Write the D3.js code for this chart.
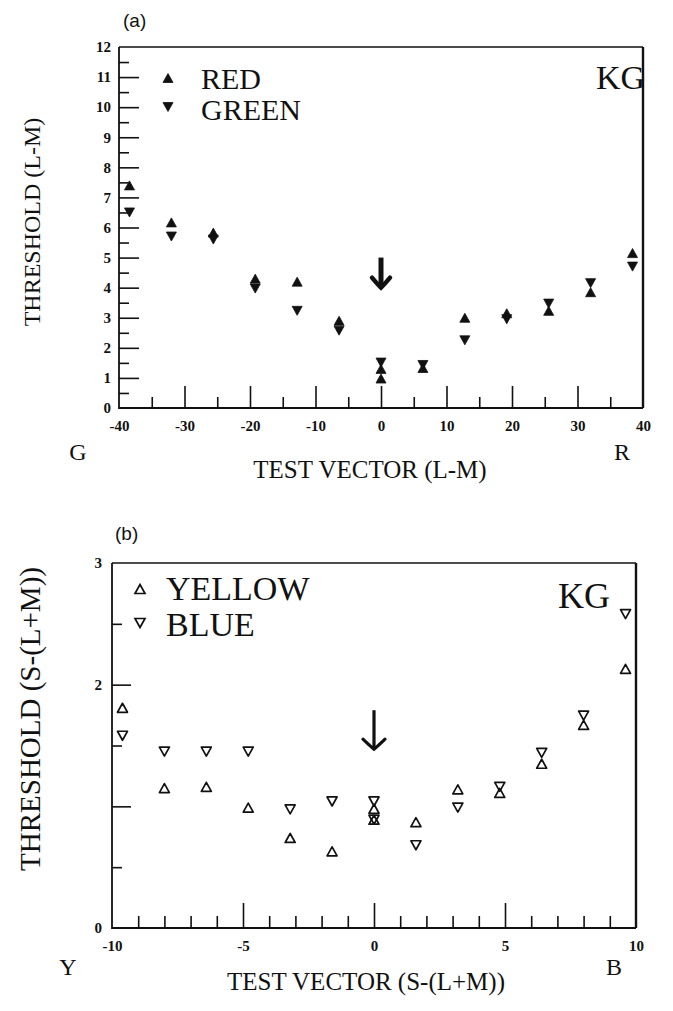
<!DOCTYPE html>
<html><head><meta charset="utf-8">
<script src="https://cdn.jsdelivr.net/npm/d3@7/dist/d3.min.js"></script>
<style>
html,body{margin:0;padding:0;background:#fff;}
svg{display:block;}
text{fill:#111;}
</style></head>
<body>
<script>
// ---------- Panel (a): L-M ----------
const lmX        = [-38.4, -32, -25.6, -19.2, -12.8, -6.4, 0, 6.4, 12.8, 19.2, 25.6, 32, 38.4];
const redThr     = [7.4, 6.17, 5.83, 4.3, 4.2, 2.9, 1.3, 1.33, 3.0, 3.15, 3.23, 3.85, 5.15];
const greenThr   = [6.5, 5.7, 5.6, 3.97, 3.23, 2.57, 1.51, 1.43, 2.25, 2.95, 3.47, 4.15, 4.7];
const redExtraX  = [0];
const redExtra   = [0.98];
const aXTicksMajor = [-30, -20, -10, 0, 10, 20, 30];
const aXTicksMinor = [-35, -25, -15, -5, 5, 15, 25, 35];
const aXLabels     = [-40, -30, -20, -10, 0, 10, 20, 30, 40];
const aYTicksMajor = [1,2,3,4,5,6,7,8,9,10,11];
const aYTicksMinor = [0.5,1.5,2.5,3.5,4.5,5.5,6.5,7.5,8.5,9.5,10.5,11.5];
const aYLabels     = [0,1,2,3,4,5,6,7,8,9,10,11,12];
const aArrow       = {x: 0, from: 5.0, to: 4.0};

// ---------- Panel (b): S-(L+M) ----------
const sX         = [-9.6, -8, -6.4, -4.8, -3.2, -1.6, 0, 1.6, 3.2, 4.8, 6.4, 8, 9.6];
const yellowThr  = [1.81, 1.15, 1.16, 0.99, 0.74, 0.63, 0.98, 0.87, 1.14, 1.11, 1.35, 1.67, 2.13];
const blueThr    = [1.58, 1.45, 1.45, 1.45, 0.975, 1.04, 1.04, 0.68, 0.99, 1.16, 1.44, 1.745, 2.58];
const extraX     = [0];
const yellowExtra= [0.89];
const blueExtra  = [0.89];
const bXTicksMajor = [-5, 0, 5];
const bXTicksMinor = [-9,-8,-7,-6,-4,-3,-2,-1,1,2,3,4,6,7,8,9];
const bXLabels     = [-10, -5, 0, 5, 10];
const bYTicksMajor = [1, 2];
const bYTicksMinor = [0.5, 1.5, 2.5];
const bYLabels     = [0, 2, 3];
const bArrow       = {x: 0, from: 1.79, to: 1.47};

const W = 673, H = 1011;
const svg = d3.select("body").append("svg").attr("width", W).attr("height", H);
const SERIF = "'Liberation Serif','Times New Roman',serif";
const SANS = "'Liberation Sans',Arial,sans-serif";

function triPath(size, up){
  const h = size*0.9, w = size/2;
  return up ? `M0,${-h/2}L${w},${h/2}L${-w},${h/2}Z` : `M0,${h/2}L${w},${-h/2}L${-w},${-h/2}Z`;
}

function panel(cfg){
  const g = svg.append("g");
  const x = d3.scaleLinear().domain(cfg.xDomain).range(cfg.xRange);
  const y = d3.scaleLinear().domain(cfg.yDomain).range(cfg.yRange);
  const [x0,x1] = cfg.xRange, [y0,y1] = cfg.yRange;

  g.append("path").attr("d", `M${x0},${y1}L${x1},${y1}`).attr("stroke","#111").attr("stroke-width",1.3).attr("fill","none");
  g.append("path").attr("d", `M${x0},${y1}L${x0},${y0}L${x1},${y0}`).attr("stroke","#111").attr("stroke-width",1.8).attr("fill","none");
  g.append("path").attr("d", `M${x1},${y1}L${x1},${y0}`).attr("stroke","#111").attr("stroke-width",2.4).attr("fill","none");

  const gxM = g.append("g").attr("transform",`translate(0,${y0})`)
    .call(d3.axisBottom(x).tickValues(cfg.xMajor).tickSize(-cfg.xMajorLen).tickFormat(""));
  const gxm = g.append("g").attr("transform",`translate(0,${y0})`)
    .call(d3.axisBottom(x).tickValues(cfg.xMinor).tickSize(-cfg.xMinorLen).tickFormat(""));
  const gxl = g.append("g").attr("transform",`translate(0,${y0})`)
    .call(d3.axisBottom(x).tickValues(cfg.xLabels).tickSize(0).tickPadding(cfg.xLabelPad).tickFormat(d3.format("d")));
  const gyM = g.append("g").attr("transform",`translate(${x0},0)`)
    .call(d3.axisLeft(y).tickValues(cfg.yMajor).tickSize(-cfg.yMajorLen).tickFormat(""));
  const gym = g.append("g").attr("transform",`translate(${x0},0)`)
    .call(d3.axisLeft(y).tickValues(cfg.yMinor).tickSize(-cfg.yMinorLen).tickFormat(""));
  const gyl = g.append("g").attr("transform",`translate(${x0},0)`)
    .call(d3.axisLeft(y).tickValues(cfg.yLabels).tickSize(0).tickPadding(cfg.yLabelPad).tickFormat(d3.format("d")));
  [gxM,gxm,gxl,gyM,gym,gyl].forEach(a=>{
    a.attr("font-size", null).attr("font-family", null);
    a.select(".domain").remove();
    a.selectAll("line").attr("stroke","#111").attr("stroke-width",1.6);
    a.selectAll("text").style("font-family",SERIF).style("font-size",cfg.tickFont+"px")
      .style("font-weight","bold").attr("fill","#111");
  });
  gxl.selectAll("text").text(d => d < 0 ? "-" + Math.abs(d) : d);

  const mk = (xs, vs, up, filled) => {
    g.append("g").selectAll("path").data(vs.map((v,i)=>({x:xs[i], v})))
      .join("path")
      .attr("transform", d=>`translate(${x(d.x)},${y(d.v)})`)
      .attr("d", triPath(cfg.markerSize, up))
      .attr("fill", filled ? "#111" : "none")
      .attr("stroke", "#111")
      .attr("stroke-width", filled ? 0.8 : 1.7)
      .attr("stroke-linejoin","round");
  };
  cfg.series.forEach(s => mk(s.x, s.v, s.up, cfg.filled));

  const ax = x(cfg.arrow.x), ya = y(cfg.arrow.from), yb = y(cfg.arrow.to);
  g.append("path").attr("d", `M${ax},${ya}L${ax},${yb-2}`)
    .attr("stroke","#111").attr("stroke-width",cfg.arrowShaft).attr("fill","none");
  const hw = cfg.arrowHeadW/2, hh = cfg.arrowHeadH;
  g.append("path")
    .attr("d", `M${ax-hw},${yb-hh}Q${ax-hw*0.35},${yb-hh*0.3} ${ax},${yb}Q${ax+hw*0.35},${yb-hh*0.3} ${ax+hw},${yb-hh}`)
    .attr("stroke","#111").attr("stroke-width",cfg.arrowHeadStroke).attr("fill","none").attr("stroke-linecap","round");

  cfg.legend.forEach(l => {
    g.append("path").attr("transform",`translate(${l.mx},${l.my})`)
      .attr("d", triPath(cfg.markerSize, l.up))
      .attr("fill", cfg.filled ? "#111" : "none").attr("stroke","#111")
      .attr("stroke-width", cfg.filled ? 0.8 : 1.7);
    g.append("text").attr("x", l.tx).attr("y", l.ty).text(l.label)
      .attr("font-family",SERIF).attr("font-size",cfg.legendFont);
  });
  g.append("text").attr("x", cfg.kg[0]).attr("y", cfg.kg[1]).attr("text-anchor","end")
    .attr("font-family",SERIF).attr("font-size",cfg.kgFont).text("KG");

  g.append("text").attr("x", cfg.title[0]).attr("y", cfg.title[1]).text(cfg.titleText)
    .attr("font-family",SANS).attr("font-size",19);
  g.append("text").attr("x", cfg.leftEnd[0]).attr("y", cfg.leftEnd[1]).attr("text-anchor","middle")
    .attr("font-family",SERIF).attr("font-size",cfg.endFont).text(cfg.leftEnd[2]);
  g.append("text").attr("x", cfg.rightEnd[0]).attr("y", cfg.rightEnd[1]).attr("text-anchor","middle")
    .attr("font-family",SERIF).attr("font-size",cfg.endFont).text(cfg.rightEnd[2]);
  g.append("text").attr("x", cfg.xTitle[0]).attr("y", cfg.xTitle[1]).attr("text-anchor","middle")
    .attr("font-family",SERIF).attr("font-size",cfg.xTitleFont).text(cfg.xTitleText);
  g.append("text").attr("transform",`translate(${cfg.yTitle[0]},${cfg.yTitle[1]}) rotate(-90)`)
    .attr("text-anchor","middle").attr("font-family",SERIF).attr("font-size",cfg.yTitleFont).text(cfg.yTitleText);
}

panel({
  xDomain:[-40,40], xRange:[119,643], yDomain:[0,12], yRange:[408,47],
  xMajor: aXTicksMajor, xMinor: aXTicksMinor, xLabels: aXLabels,
  yMajor: aYTicksMajor, yMinor: aYTicksMinor, yLabels: aYLabels,
  xMajorLen:22, xMinorLen:11, yMajorLen:20, yMinorLen:10, xLabelPad:12, yLabelPad:8, tickFont:15,
  filled:true, markerSize:10,
  series:[{x:lmX, v:redThr, up:true},{x:lmX, v:greenThr, up:false},{x:redExtraX, v:redExtra, up:true}],
  arrow:aArrow, arrowShaft:5, arrowHeadW:18, arrowHeadH:10, arrowHeadStroke:4.5,
  legend:[{mx:168,my:78,up:true,tx:201,ty:89,label:"RED"},{mx:168,my:107,up:false,tx:201,ty:120,label:"GREEN"}],
  legendFont:30, kg:[645,89], kgFont:34,
  title:[123,27], titleText:"(a)",
  leftEnd:[78,460,"G"], rightEnd:[622,460,"R"], endFont:24,
  xTitle:[370,478], xTitleText:"TEST VECTOR (L-M)", xTitleFont:25,
  yTitle:[40,222], yTitleText:"THRESHOLD (L-M)", yTitleFont:24
});

panel({
  xDomain:[-10,10], xRange:[112,636], yDomain:[0,3], yRange:[928,563],
  xMajor: bXTicksMajor, xMinor: bXTicksMinor, xLabels: bXLabels,
  yMajor: bYTicksMajor, yMinor: bYTicksMinor, yLabels: bYLabels,
  xMajorLen:25, xMinorLen:12, yMajorLen:19, yMinorLen:10, xLabelPad:12, yLabelPad:10, tickFont:15,
  filled:false, markerSize:10,
  series:[{x:sX, v:yellowThr, up:true},{x:sX, v:blueThr, up:false},{x:extraX, v:yellowExtra, up:true},{x:extraX, v:blueExtra, up:false}],
  arrow:bArrow, arrowShaft:3.2, arrowHeadW:22, arrowHeadH:10, arrowHeadStroke:3.2,
  legend:[{mx:140,my:589,up:true,tx:166,ty:600,label:"YELLOW"},{mx:140,my:623,up:false,tx:166,ty:636,label:"BLUE"}],
  legendFont:34, kg:[610,608], kgFont:36,
  title:[115,540], titleText:"(b)",
  leftEnd:[68,975,"Y"], rightEnd:[614,975,"B"], endFont:24,
  xTitle:[366,990], xTitleText:"TEST VECTOR (S-(L+M))", xTitleFont:25,
  yTitle:[40,719], yTitleText:"THRESHOLD (S-(L+M))", yTitleFont:29
});
</script>
</body></html>
